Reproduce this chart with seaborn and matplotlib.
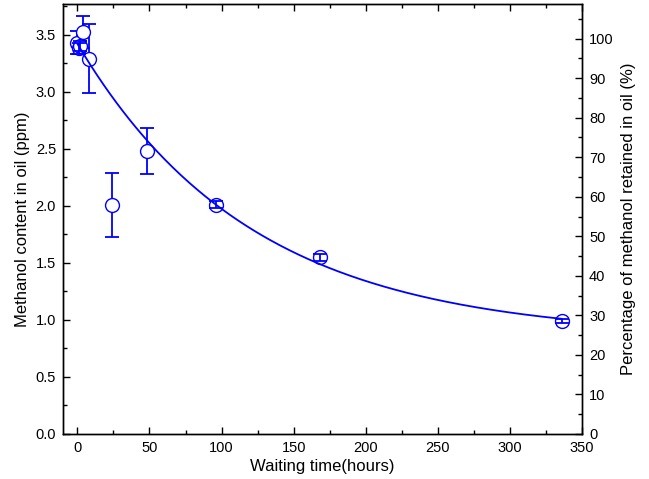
import numpy as np
import pandas as pd
import matplotlib
matplotlib.use("Agg")
import matplotlib.pyplot as plt
import seaborn as sns
from matplotlib.ticker import MultipleLocator, FormatStrFormatter

hours = [0, 1, 2, 4, 8, 24, 48, 96, 168, 336]
methanol_ppm = [3.43, 3.38, 3.40, 3.52, 3.29, 2.01, 2.48, 2.01, 1.55, 0.99]
methanol_err = [0.10, 0.05, 0.04, 0.14, 0.30, 0.28, 0.20, 0.03, 0.03, 0.02]

# exponential decay fit y = c + A*exp(-k t), parameters
fit_c = 0.85
fit_a = 2.57
fit_k = 0.00828

# 100 % retained corresponds to this methanol content
ref_ppm = 3.465

blue = "#0000ff"

sns.set_style("ticks")
plt.rcParams["font.family"] = ["Liberation Sans", "DejaVu Sans"]
plt.rcParams["text.color"] = "black"
plt.rcParams["axes.labelcolor"] = "black"
plt.rcParams["xtick.color"] = "black"
plt.rcParams["ytick.color"] = "black"
plt.rcParams["axes.edgecolor"] = "black"

df = pd.DataFrame({"t": hours, "ppm": methanol_ppm, "err": methanol_err})
t_fit = np.linspace(0, 336, 300)
fit_df = pd.DataFrame({"t": t_fit, "ppm": fit_c + fit_a * np.exp(-fit_k * t_fit)})

fig = plt.figure(figsize=(6.49, 4.79), dpi=100)
ax = fig.add_axes([0.097, 0.094, 0.8, 0.898])

# error bars (behind the markers)
ax.errorbar(df["t"], df["ppm"], yerr=df["err"], fmt="none", ecolor=blue,
            elinewidth=1.3, capsize=5, capthick=1.3, zorder=2)
# hollow circles
sns.scatterplot(data=df, x="t", y="ppm", ax=ax, marker="o", s=100,
                facecolor="white", edgecolor=blue, linewidth=1.0, zorder=3)
# short error bars that sit inside the circle stay visible
small = df[df["err"] < 0.06]
ax.errorbar(small["t"], small["ppm"], yerr=small["err"], fmt="none", ecolor=blue,
            elinewidth=1.3, capsize=5, capthick=1.3, zorder=3.5)
# fit curve
sns.lineplot(data=fit_df, x="t", y="ppm", ax=ax, color=blue, linewidth=1.3, zorder=4)

ax.set_xlim(-10, 350)
ax.set_ylim(0, 3.77)
ax.xaxis.set_major_locator(MultipleLocator(50))
ax.xaxis.set_minor_locator(MultipleLocator(25))
ax.yaxis.set_major_locator(MultipleLocator(0.5))
ax.yaxis.set_minor_locator(MultipleLocator(0.25))
ax.yaxis.set_major_formatter(FormatStrFormatter("%.1f"))
ax.tick_params(which="both", direction="in", top=True, labelsize=10.5, pad=5)
ax.tick_params(which="major", length=5, width=1)
ax.tick_params(which="minor", length=3, width=1)
ax.set_xlabel("Waiting time(hours)", fontsize=12, labelpad=3)
ax.set_ylabel("Methanol content in oil (ppm)", fontsize=12, labelpad=4)

ax2 = ax.twinx()
ax2.set_ylim(0, 3.77 / ref_ppm * 100)
ax2.yaxis.set_major_locator(MultipleLocator(10))
ax2.yaxis.set_minor_locator(MultipleLocator(5))
ax2.tick_params(which="both", direction="in", labelsize=10.5, pad=5)
ax2.tick_params(which="major", length=5, width=1)
ax2.tick_params(which="minor", length=3, width=1)
ax2.set_ylabel("Percentage of methanol retained in oil (%)", fontsize=12, labelpad=5)

for a in (ax, ax2):
    for sp in a.spines.values():
        sp.set_linewidth(1.0)
        sp.set_visible(True)
        sp.set_color("black")

fig.savefig("out.png", dpi=100)
